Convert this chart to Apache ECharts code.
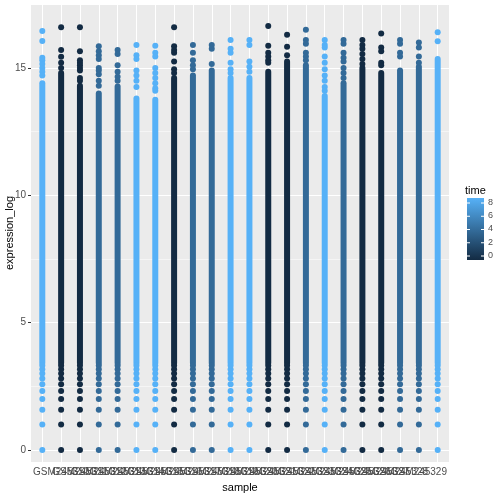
<!DOCTYPE html>
<html><head><meta charset="utf-8">
<script src="https://cdn.jsdelivr.net/npm/echarts@6/dist/echarts.min.js"></script>
<style>html,body{margin:0;padding:0;background:#fff}#c{width:504px;height:504px}</style>
</head><body><div id="c"></div>
<script>
const samples = ["GSM245309","GSM245310","GSM245311","GSM245312","GSM245313","GSM245314","GSM245315","GSM245316","GSM245317","GSM245318","GSM245319","GSM245320","GSM245321","GSM245322","GSM245323","GSM245324","GSM245325","GSM245326","GSM245327","GSM245328","GSM245329","GSM245330"];
const times = [8,0,0,4,4,8,8,0,4,4,8,8,0,0,4,8,4,0,0,4,4,8];
const lowValues = [0,1,1.585,2,2.32,2.585,2.807,3,3.17,3.32];
const bandLow = [3.42,3.42,3.42,3.42,3.42,3.42,3.42,3.42,3.42,3.42,3.42,3.42,3.42,3.42,3.42,3.42,3.42,3.42,3.42,3.42,3.42,3.42];
const bandHigh = [14.4,14.8,14.3,14.0,14.27,13.8,13.75,14.6,14.7,14.9,14.6,14.6,14.85,15.25,15.1,13.9,14.4,15.0,14.8,14.9,15.05,15.35];
const topValues = [
 [16.45,16.06,15.4,15.3,15.15,15.0,14.85,14.7],
 [16.6,15.7,15.44,15.2,15.0],
 [16.6,15.65,15.3,15.2,15.1,15.0,14.9,14.6,14.5],
 [15.85,15.65,15.5,15.35,15.0,14.9,14.75,14.5,14.3],
 [15.7,15.55,15.1,14.85,14.65,14.5],
 [15.9,15.5,15.35,14.9,14.7,14.5,14.25],
 [15.87,15.6,15.45,15.0,14.8,14.6,14.4,14.2,14.1],
 [16.6,15.85,15.7,15.6,15.25,14.95,14.8],
 [15.9,15.6,15.3,15.1,14.95],
 [15.9,15.75,15.15],
 [16.1,15.75,15.6,15.2,14.95,14.8],
 [16.1,15.9,15.25,15.05,14.85],
 [16.65,15.87,15.6,15.45,15.3,15.2],
 [16.3,15.83,15.5],
 [16.5,16.1,15.95,15.6,15.45,15.3],
 [16.1,15.9,15.8,15.45,15.2,14.95,14.7,14.5,14.25,14.1],
 [16.1,15.95,15.6,15.4,15.25,15.0,14.8,14.6],
 [16.1,15.9,15.75,15.55,15.35,15.15],
 [16.35,15.8,15.65,15.2,15.1],
 [16.1,15.95,15.6,15.45],
 [16.0,15.8,15.45,15.2],
 [16.4,16.05]
];
const yTicks = [0,5,10,15];
const yMinor = [2.5,7.5,12.5];
const legendTicks = [0,2,4,6,8];

function hex(c){return [parseInt(c.slice(1,3),16),parseInt(c.slice(3,5),16),parseInt(c.slice(5,7),16)];}
const cLo = hex('#132B43'), cHi = hex('#56B1F7');
function colorOf(t){const f=t/8;
  if(t===4) return '#336A98';
  const c=cLo.map((v,i)=>Math.round(v+(cHi[i]-v)*f));return 'rgb('+c.join(',')+')';}

const pts=[];
samples.forEach((s,i)=>{
  lowValues.forEach(v=>pts.push({value:[i+1,v],itemStyle:{color:colorOf(times[i])}}));
  topValues[i].forEach(v=>pts.push({value:[i+1,v],itemStyle:{color:colorOf(times[i])}}));
});
const bands = samples.map((s,i)=>[i+1,bandLow[i],bandHigh[i],times[i]]);

const chart = echarts.init(document.getElementById('c'));
const yMin=-0.47, yMax=17.47;
const gridTop=5, gridBottom=462;
const ly = v => 256 - (v/8)*53;
chart.setOption({
  animation:false,
  grid:{left:31,right:55,top:gridTop,bottom:504-gridBottom,backgroundColor:'#EBEBEB',show:true,borderWidth:0,outerBoundsMode:'none',containLabel:false},
  xAxis:{type:'value',min:0.4,max:22.6,interval:1,
    axisLine:{show:false},
    axisTick:{show:true,length:3,lineStyle:{color:'#333'},customValues:samples.map((s,i)=>i+1)},
    axisLabel:{customValues:samples.map((s,i)=>i+1),formatter:v=>samples[Math.round(v)-1]||'',color:'#4d4d4d',fontSize:10,fontFamily:'Liberation Sans',margin:5,hideOverlap:false},
    splitLine:{show:false},
    name:'sample',nameLocation:'middle',nameGap:20,nameTextStyle:{color:'#000',fontSize:11,fontFamily:'Liberation Sans'}},
  yAxis:{type:'value',min:yMin,max:yMax,
    axisLine:{show:false},
    axisTick:{show:true,length:3,lineStyle:{color:'#333'},customValues:yTicks},
    axisLabel:{customValues:yTicks,color:'#4d4d4d',fontSize:10,fontFamily:'Liberation Sans',margin:5},
    splitLine:{show:false}},
  series:[
    {type:'line',data:[],silent:true,z:1,markLine:{z:1,symbol:'none',silent:true,label:{show:false},animation:false,
      data:[...yMinor.map(v=>({yAxis:v,lineStyle:{color:'#fff',width:0.5,type:'solid'}})),
            ...yTicks.map(v=>({yAxis:v,lineStyle:{color:'#fff',width:1,type:'solid'}})),
            ...samples.map((s,i)=>({xAxis:i+1,lineStyle:{color:'#fff',width:1,type:'solid'}}))]}},
    {type:'custom',z:3,data:bands,renderItem:(p,api)=>{
      const a=api.coord([api.value(0),api.value(1)]), b=api.coord([api.value(0),api.value(2)]);
      return {type:'rect',shape:{x:a[0]-3,y:b[1]-3,width:6,height:a[1]-b[1]+6,r:3},style:{fill:colorOf(api.value(3))}};
    },encode:{x:0,y:[1,2]}},
    {type:'scatter',z:4,data:pts,symbolSize:6,itemStyle:{opacity:1,borderWidth:0}}
  ],
  graphic:[
    {type:'text',x:10,y:233,rotation:Math.PI/2,style:{text:'expression_log',fill:'#000',fontSize:11,fontFamily:'Liberation Sans',align:'center',verticalAlign:'middle'},originX:0,originY:0},
    {type:'text',left:465,top:185,style:{text:'time',fill:'#000',fontSize:11,fontFamily:'Liberation Sans'}},
    {type:'rect',shape:{x:467,y:198,width:17,height:62},style:{fill:new echarts.graphic.LinearGradient(0,0,0,1,[{offset:0,color:'#56B1F7'},{offset:1,color:'#132B43'}])}},
    ...legendTicks.map(t=>({type:'text',x:488,y:ly(t)-5,style:{text:String(t),fill:'#4d4d4d',fontSize:9,fontFamily:'Liberation Sans'}})),
    ...legendTicks.map(t=>({type:'line',shape:{x1:467,y1:ly(t),x2:470,y2:ly(t)},style:{stroke:'#fff',lineWidth:1}})),
    ...legendTicks.map(t=>({type:'line',shape:{x1:481,y1:ly(t),x2:484,y2:ly(t)},style:{stroke:'#fff',lineWidth:1}}))
  ]
});
</script></body></html>
